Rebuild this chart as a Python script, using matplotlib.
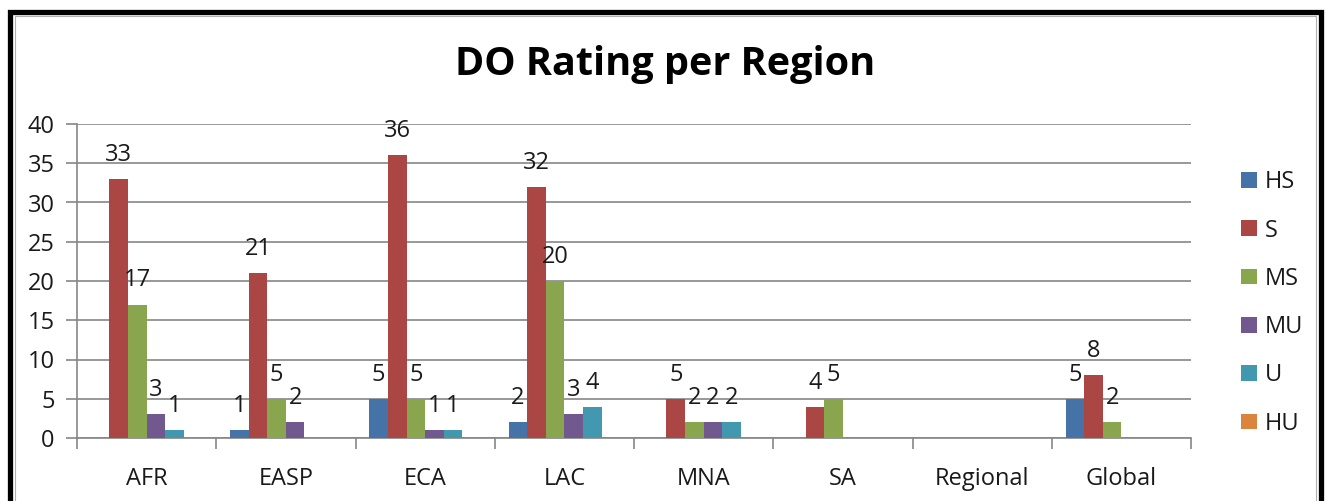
import numpy as np
import matplotlib
matplotlib.use("Agg")
from matplotlib import pyplot as plt
from matplotlib.patches import Rectangle

# data
regions = ['AFR', 'EASP', 'ECA', 'LAC', 'MNA', 'SA', 'Regional', 'Global']
series = ['HS', 'S', 'MS', 'MU', 'U', 'HU']
hs = [0, 1, 5, 2, 0, 0, 0, 5]
s = [33, 21, 36, 32, 5, 4, 0, 8]
ms = [17, 5, 5, 20, 2, 5, 0, 2]
mu = [3, 2, 1, 3, 2, 0, 0, 0]
u = [1, 0, 1, 4, 2, 0, 0, 0]
hu = [0, 0, 0, 0, 0, 0, 0, 0]
colors = ['#4572A7', '#AA4643', '#89A54E', '#71588F', '#4198AF', '#DB843D']

plt.rcParams['font.family'] = ['Open Sans', 'DejaVu Sans']

fig = plt.figure(figsize=(13.27, 5.01), dpi=100)
ax = fig.add_axes([77 / 1327, 63 / 501, 1114 / 1327, 314 / 501])

values = [hs, s, ms, mu, u, hu]
n = len(series)
bw = 1 / (n + 1.5)  # excel gap width 150%
x = np.arange(len(regions))
for i, (name, vals, c) in enumerate(zip(series, values, colors)):
    pos = x - 0.5 + 0.75 * bw + (i + 0.5) * bw
    ax.bar(pos, vals, width=bw, color=c, label=name, zorder=3)
    for p, v in zip(pos, vals):
        if v:
            ax.annotate(str(v), (p, v), xytext=(0, 13), textcoords='offset points',
                        ha='center', va='baseline', fontsize=17, color='#1a1a1a')

ax.set_xlim(-0.5, len(regions) - 0.5)
ax.set_ylim(0, 40)
ax.set_yticks(range(0, 41, 5))
ax.yaxis.grid(True, color='#868686', linewidth=1.2, zorder=0)
ax.set_xticks(x)
ax.set_xticklabels(regions)
ax.set_xticks(np.arange(-0.5, len(regions)), minor=True)
ax.tick_params(axis='x', which='major', length=0, pad=21, labelsize=17, labelcolor='#1a1a1a')
ax.tick_params(axis='x', which='minor', length=8, color='#868686', width=1.2)
ax.tick_params(axis='y', length=8, color='#868686', width=1.2, labelsize=17, pad=8,
               labelcolor='#1a1a1a')
for side in ['top', 'right']:
    ax.spines[side].set_visible(False)
ax.spines['left'].set_color('#868686')
ax.spines['bottom'].set_color('#868686')
ax.spines['left'].set_linewidth(1.2)
ax.spines['bottom'].set_linewidth(1.2)

fig.text(665 / 1327, 1 - 64 / 501, 'DO Rating per Region', ha='center', va='center',
         fontsize=28.5, fontweight='bold')

fig.legend(loc='center left', bbox_to_anchor=(1220 / 1327, 1 - 303 / 501), frameon=False,
           fontsize=17, handlelength=0.65, handleheight=0.65, handletextpad=0.35,
           labelspacing=1.03, labelcolor='#1a1a1a')

# chart border with thin grey inner line
fig.add_artist(Rectangle((15 / 1327, -0.1), 1301 / 1327, 1.1 - 15.5 / 501,
                         transform=fig.transFigure, fill=False, edgecolor='#b0b0b0',
                         linewidth=0.8))
fig.add_artist(Rectangle((9.5 / 1327, -0.1), 1311.5 / 1327, 1.1 - 11.5 / 501,
                         transform=fig.transFigure, fill=False, edgecolor='black',
                         linewidth=3.8))

fig.savefig('out.png', dpi=100)
